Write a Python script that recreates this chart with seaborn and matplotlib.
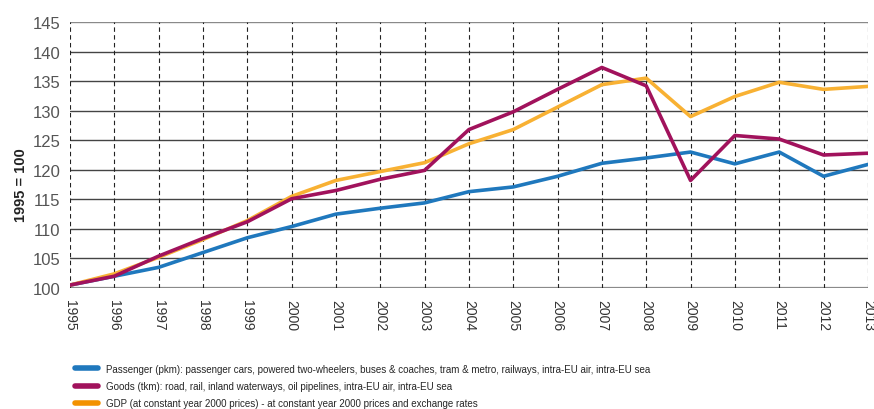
import pandas as pd
import matplotlib.pyplot as plt
import seaborn as sns
from matplotlib.lines import Line2D

# Indices 1995 = 100
anos = list(range(1995, 2014))
passageiros = [100.5, 102.0, 103.5, 106.0, 108.5, 110.4, 112.5, 113.5, 114.4, 116.3,
               117.1, 118.9, 121.1, 122.0, 123.0, 121.0, 123.0, 118.9, 120.9]
mercadorias = [100.5, 102.0, 105.4, 108.4, 111.2, 115.1, 116.5, 118.4, 119.9, 126.8,
               129.8, 133.6, 137.3, 134.2, 118.2, 125.8, 125.2, 122.5, 122.8]
pib = [100.5, 102.4, 105.2, 108.2, 111.4, 115.5, 118.2, 119.7, 121.2, 124.4,
       126.8, 130.6, 134.4, 135.5, 129.0, 132.4, 134.8, 133.6, 134.1]

series = ['Passenger', 'Goods', 'GDP']
rotulos = [
    'Passenger (pkm): passenger cars, powered two-wheelers, buses & coaches, tram & metro, railways, intra-EU air, intra-EU sea',
    'Goods (tkm): road, rail, inland waterways, oil pipelines, intra-EU air, intra-EU sea',
    'GDP (at constant year 2000 prices) - at constant year 2000 prices and exchange rates',
]
cores_linha = {'Passenger': '#1f78bd', 'Goods': '#a1125c', 'GDP': '#f8b133'}
cores_legenda = ['#1f78bd', '#a1125c', '#f39200']

df = pd.DataFrame({'Ano': anos * 3,
                   'Valor': passageiros + mercadorias + pib,
                   'Serie': [s for s in series for _ in anos]})

sns.set_style("white")
plt.rcParams['font.family'] = ['Liberation Sans', 'DejaVu Sans']

fig = plt.figure(figsize=(8.74, 4.10), dpi=100)
ax = fig.add_axes([0.080, 0.295, 0.913, 0.649])

# Grade
for v in range(100, 150, 5):
    ax.axhline(v, color='#8a8a8a' if v in (100, 145) else '#444444',
               lw=1.6 if v == 100 else 1.0, zorder=1)
for a in anos:
    ax.axvline(a, color='#222222', lw=0.8, ls=(0, (4, 3)), zorder=1)

sns.lineplot(data=df, x='Ano', y='Valor', hue='Serie', hue_order=['Passenger', 'GDP', 'Goods'],
             palette=cores_linha, lw=2.6, legend=False, ax=ax, zorder=3)

ax.set_xlim(1995, 2013)
ax.set_ylim(100, 145)
ax.set_xticks(anos)
ax.set_xticklabels([str(a) for a in anos], rotation=-90, fontsize=10, color='#333333')
ax.set_yticks(range(100, 150, 5))
ax.tick_params(axis='y', labelsize=12, labelcolor='#555555', length=0, pad=7)
ax.tick_params(axis='x', length=6, width=0.8, color='#222222', pad=2, direction='out')
for s in ax.spines.values():
    s.set_visible(False)
ax.set_xlabel('')
ax.set_ylabel('')
fig.text(21 / 874, 1 - 185 / 410, '1995 = 100', rotation=90, ha='center', va='center',
         fontsize=10.5, fontweight='bold', fontstretch='condensed', color='#222222')

handles = [Line2D([0], [0], color=c, lw=4) for c in cores_legenda]
fig.legend(handles, rotulos, loc='upper left', bbox_to_anchor=(0.086, 0.11),
           frameon=False, fontsize=7.0, handlelength=2.3, handletextpad=0.85,
           labelspacing=0.75, borderaxespad=0, borderpad=0)

fig.savefig('out.png', dpi=100)
